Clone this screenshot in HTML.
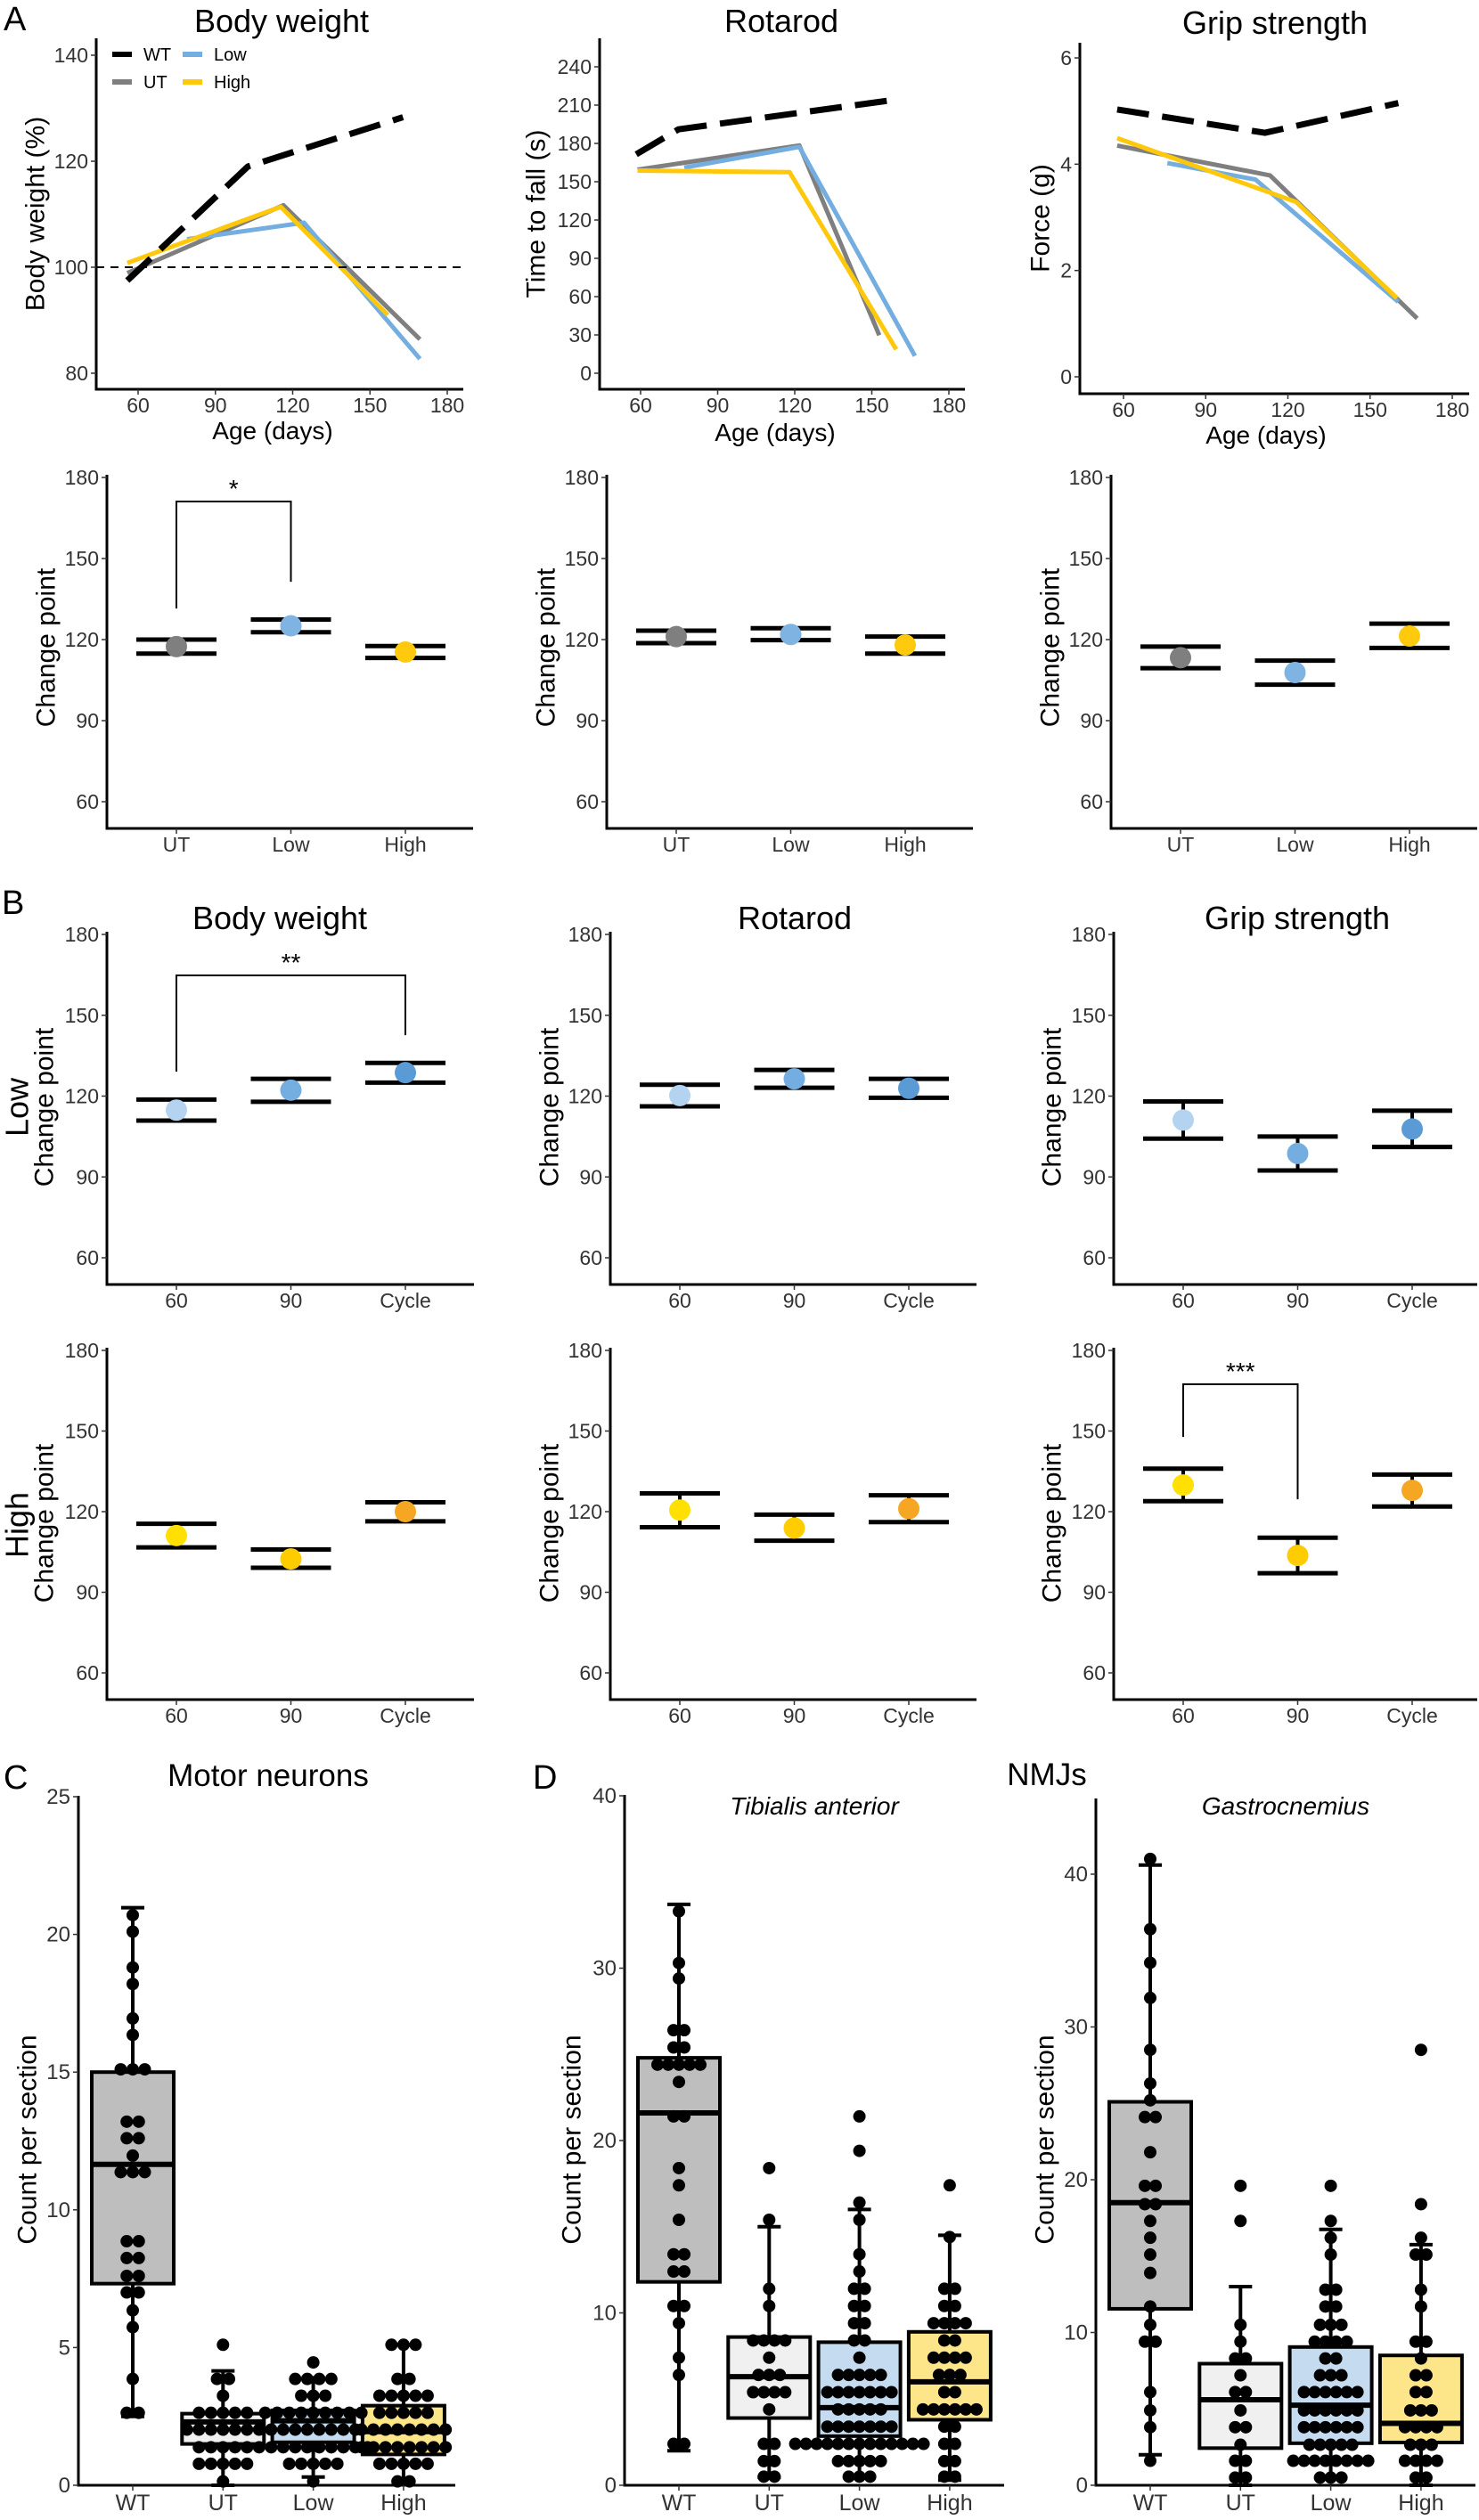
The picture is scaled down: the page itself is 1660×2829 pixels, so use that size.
<!DOCTYPE html>
<html><head><meta charset="utf-8">
<style>
body{margin:0;background:#fff}
svg{display:block;font-family:"Liberation Sans",Arial,sans-serif}
</style></head>
<body>
<svg id="fig" xmlns="http://www.w3.org/2000/svg" width="1660" height="2829" viewBox="0 0 1660 2829"></svg>
<script>
// ---------- DATA ----------
const ageTicks=[60,90,120,150,180];
const bwTicks=[80,100,120,140];
const bwWT=[[55.8,97.5],[102.6,119],[162.8,128.3]];
const bwUT=[[55.8,98.9],[116.4,111.7],[169.4,86.4]];
const bwLow=[[79,105.3],[124.4,108.4],[169.4,82.7]];
const bwHigh=[[55.8,100.8],[115.4,111.4],[156.9,91]];
const rrTicks=[0,30,60,90,120,150,180,210,240];
const rrWT=[[58.3,171.5],[74.7,191],[160,214.5]];
const rrUT=[[58.8,159.4],[121.8,178.4],[152.9,29.7]];
const rrLow=[[77,161],[121.8,177.3],[166.8,13.5]];
const rrHigh=[[58.8,158.7],[118,157.5],[159.5,18.6]];
const gsTicks=[0,2,4,6];
const gsWT=[[57.7,5.03],[111.6,4.59],[160.3,5.15]];
const gsUT=[[57.7,4.35],[113.5,3.79],[167.2,1.1]];
const gsLow=[[76,4.02],[108.2,3.71],[160.3,1.41]];
const gsHigh=[[57.7,4.49],[123,3.29],[159.8,1.48]];
const cpTicks=[60,90,120,150,180];
const groupCats=['UT','Low','High'];
const ageCats=['60','90','Cycle'];
// [lower, point, upper]
const cpBW=[[114.8,117.4,120],[122.7,125.1,127.4],[113.2,115.4,117.6]];
const cpRR=[[118.7,121.1,123.3],[119.8,121.9,124.2],[114.8,118,121.1]];
const cpGS=[[109.4,113.3,117.4],[103.3,107.8,112.2],[116.9,121.3,125.9]];
const lowBW=[[110.9,114.8,118.7],[117.9,122.2,126.4],[125,128.7,132.3]];
const lowRR=[[116.2,120.2,124.2],[123.1,126.4,129.7],[119.4,122.9,126.4]];
const lowGS=[[104.2,111.1,118],[92.4,98.7,105],[101.1,107.8,114.6]];
const highBW=[[106.7,111.1,115.5],[99.1,102.4,105.9],[116.4,120,123.5]];
const highRR=[[114.2,120.6,126.8],[109.2,113.9,118.9],[116.1,121.1,126.1]];
const highGS=[[123.9,129.9,136],[97.1,103.7,110.3],[121.9,127.9,133.8]];
// brackets: [fromIdx, toIdx, leftEnd, top, rightEnd]
const sigA=[0,1,131.5,171.1,141.4];
const sigBLow=[0,2,129.1,164.8,142.6];
const sigBHigh=[0,1,147.8,167.4,124.6];

const boxCats=['WT','UT','Low','High'];
const mnTicks=[0,5,10,15,20,25];
const nmjTicks=[0,10,20,30,40];
// [min,q1,median,q3,max]
const mnStats=[[2.5,7.32,11.65,15.0,20.97],[0,1.5,2.3,2.6,4.15],[0.3,1.56,2.34,2.72,3.9],[0.1,1.12,1.95,2.89,5.1]];
const taStats=[[2.0,11.8,21.6,24.8,33.7],[0.47,3.9,6.3,8.6,15.0],[0.47,2.85,4.5,8.3,16.0],[0.3,3.8,6.0,8.9,14.5]];
const gaStats=[[2.0,11.55,18.5,25.1,40.6],[0,2.43,5.6,7.96,13.0],[0.5,2.75,5.24,9.05,16.75],[0,2.8,4.05,8.5,15.75]];
// dot rows: [value, count]
const mnWTdots=[[20.7,1],[20.1,1],[18.8,1],[18.2,1],[16.95,1],[16.35,1],[15.1,3],[13.2,2],[12.6,2],[11.97,1],[11.37,3],[8.86,2],[8.25,2],[7.6,2],[7.0,2],[6.35,1],[5.74,1],[3.86,1],[2.63,2]];
const mnUTdots=[[5.1,1],[3.86,2],[3.25,1],[2.63,5],[2.02,7],[1.38,5],[0.78,5],[0.14,1]];
const mnLowdots=[[4.46,1],[3.86,4],[3.25,3],[2.63,9],[2.02,8],[1.38,10],[0.78,5],[0.14,1]];
const mnHighdots=[[5.1,3],[3.86,2],[3.25,5],[2.63,5],[2.02,8],[1.38,8],[0.78,5],[0.14,2]];
const taWTdots=[[33.3,1],[30.3,1],[29.4,1],[26.4,2],[25.4,2],[24.4,5],[23.4,1],[21.4,2],[18.4,1],[17.4,1],[15.4,1],[13.4,2],[12.4,2],[10.4,2],[9.4,1],[7.4,1],[6.4,1],[2.4,2]];
const taUTdots=[[18.4,1],[15.4,1],[11.4,1],[10.4,1],[8.4,4],[7.4,1],[6.4,3],[5.4,4],[4.4,1],[2.4,2],[1.4,2],[0.5,2]];
const taLowdots=[[21.4,1],[19.4,1],[16.4,1],[15.4,1],[13.4,1],[12.4,1],[11.4,2],[10.4,2],[9.4,2],[8.4,2],[7.4,1],[6.4,5],[5.4,7],[4.4,5],[3.4,7],[2.4,13],[1.4,5],[0.5,3]];
const taHighdots=[[17.4,1],[14.4,1],[11.4,2],[10.4,2],[9.4,4],[8.4,2],[7.4,4],[6.4,3],[5.4,2],[4.4,6],[3.4,2],[2.4,2],[1.4,2],[0.5,2]];
const gaWTdots=[[41,1],[36.4,1],[34.2,1],[31.9,1],[28.5,1],[26.3,1],[25.2,1],[24.1,2],[21.8,1],[19.6,2],[18.4,2],[17.3,1],[16.2,1],[15.1,1],[13.9,1],[11.7,1],[10.5,1],[9.4,2],[6.1,1],[4.9,1],[3.8,1],[1.6,1]];
const gaUTdots=[[19.6,1],[17.3,1],[10.5,1],[9.4,1],[8.3,2],[7.2,1],[6.1,2],[4.9,1],[3.8,2],[2.65,1],[1.6,2],[0.5,2]];
const gaLowdots=[[19.6,1],[17.3,1],[16.2,1],[15.1,1],[12.8,2],[11.7,2],[10.5,3],[9.4,4],[8.3,2],[7.2,3],[6.1,6],[4.9,6],[3.8,6],[2.65,5],[1.6,8],[0.5,3]];
const gaHighdots=[[28.5,1],[18.4,1],[16.2,1],[15.1,2],[12.8,1],[11.7,1],[9.4,2],[8.3,1],[7.2,2],[6.1,2],[4.9,3],[3.8,4],[2.65,3],[1.6,4],[0.5,2]];

// ---------- HELPERS ----------
const NS='http://www.w3.org/2000/svg';
const svg=document.getElementById('fig');
function mk(tag,parent,name,attrs){
  const e=document.createElementNS(NS,tag);
  
  
  for(const k in attrs) e.setAttribute(k,attrs[k]);
  parent.appendChild(e);
  return e;
}
function lin(v0,p0,v1,p1){return v=>p0+(v-v0)*(p1-p0)/(v1-v0);}
function txt(parent,name,x,y,s,size,extra){
  const a=Object.assign({x:x,y:y,'font-size':size,'text-anchor':'middle',fill:'#000'},extra||{});
  const t=mk('text',parent,name,a);
  t.textContent=s;
  return t;
}
function vtxt(parent,name,x,y,s,size){
  return txt(parent,name,x,y,s,size,{transform:`rotate(-90 ${x} ${y})`,'dominant-baseline':'central'});
}
function axes(g,P,yTicks){
  mk('line',g,'y-axis-line',{x1:P.ax,y1:P.top,x2:P.ax,y2:P.ay+1.5,stroke:'#000','stroke-width':3});
  mk('line',g,'x-axis-line',{x1:P.ax-1.5,y1:P.ay,x2:P.right,y2:P.ay,stroke:'#000','stroke-width':3});
  yTicks.forEach(v=>{
    const py=P.ys(v);
    mk('line',g,'y-tick',{x1:P.ax-6,y1:py,x2:P.ax,y2:py,stroke:'#333','stroke-width':1.5});
    txt(g,'y-tick-label',P.ax-9,py+8,String(v),P.fs||23,{'text-anchor':'end',fill:'#333'});
  });
}
function xNumTicks(g,P,ticks){
  ticks.forEach(v=>{
    const px=P.xs(v);
    mk('line',g,'x-tick',{x1:px,y1:P.ay,x2:px,y2:P.ay+6,stroke:'#333','stroke-width':1.5});
    txt(g,'x-tick-label',px,P.ay+26,String(v),23,{fill:'#333'});
  });
}
function xCatTicks(g,P,cats,catX,fs,dy){
  cats.forEach((c,i)=>{
    const px=catX(i);
    mk('line',g,'x-tick',{x1:px,y1:P.ay,x2:px,y2:P.ay+6,stroke:'#333','stroke-width':1.5});
    txt(g,'x-tick-label',px,P.ay+(dy||26),c,fs||23,{fill:'#333'});
  });
}
const COL={WT:'#000',UT:'#7f7f7f',Low:'#74aee0',High:'#ffc80a'};
function series(g,P,name,pts,color,dashed){
  const d=pts.map(p=>P.xs(p[0]).toFixed(1)+','+P.ys(p[1]).toFixed(1)).join(' ');
  const a={points:d,fill:'none',stroke:color,'stroke-width':dashed?7:5,'stroke-linejoin':'round'};
  if(dashed)a['stroke-dasharray']='36,15';
  mk('polyline',g,name,a);
}
function linePanel(name,P,ticksY,set){
  const g=mk('g',svg,name,{});
  axes(g,P,ticksY);
  xNumTicks(g,P,ageTicks);
  series(g,P,'series-ut',set[1],COL.UT,false);
  series(g,P,'series-low',set[2],COL.Low,false);
  series(g,P,'series-high',set[3],COL.High,false);
  series(g,P,'series-wt',set[0],COL.WT,true);
  return g;
}
function cpPanel(name,P,cats,data,colors,sig,stars){
  const g=mk('g',svg,name,{});
  axes(g,P,cpTicks);
  const catX=i=>P.ax+78+i*128.5;
  xCatTicks(g,P,cats,catX);
  data.forEach((d,i)=>{
    const cx=catX(i);
    mk('line',g,'error-bar-stem',{x1:cx,y1:P.ys(d[0]),x2:cx,y2:P.ys(d[2]),stroke:'#000','stroke-width':4});
    mk('line',g,'error-bar-lower',{x1:cx-45,y1:P.ys(d[0]),x2:cx+45,y2:P.ys(d[0]),stroke:'#000','stroke-width':5});
    mk('line',g,'error-bar-upper',{x1:cx-45,y1:P.ys(d[2]),x2:cx+45,y2:P.ys(d[2]),stroke:'#000','stroke-width':5});
    mk('circle',g,'point-'+cats[i].toLowerCase(),{cx:cx,cy:P.ys(d[1]),r:12,fill:colors[i]});
  });
  if(sig){
    const x1=catX(sig[0]),x2=catX(sig[1]),yt=P.ys(sig[3]);
    mk('polyline',g,'significance-bracket',{points:`${x1},${P.ys(sig[2])} ${x1},${yt} ${x2},${yt} ${x2},${P.ys(sig[4])}`,fill:'none',stroke:'#000','stroke-width':2});
    txt(g,'significance-stars',(x1+x2)/2,yt-5,stars,28);
  }
  return g;
}
function boxPanel(name,P,stats,dotSets,fills){
  const g=mk('g',svg,name,{});
  axes(g,P,P.ticks);
  const catX=i=>P.ax+61+i*101.3;
  xCatTicks(g,P,boxCats,catX,25,28);
  stats.forEach((s,i)=>{
    const cx=catX(i),hw=46;
    mk('line',g,'whisker-upper',{x1:cx,y1:P.ys(s[3]),x2:cx,y2:P.ys(s[4]),stroke:'#000','stroke-width':4});
    mk('line',g,'whisker-lower',{x1:cx,y1:P.ys(s[1]),x2:cx,y2:P.ys(s[0]),stroke:'#000','stroke-width':4});
    mk('line',g,'whisker-cap-upper',{x1:cx-13,y1:P.ys(s[4]),x2:cx+13,y2:P.ys(s[4]),stroke:'#000','stroke-width':4});
    mk('line',g,'whisker-cap-lower',{x1:cx-13,y1:P.ys(s[0]),x2:cx+13,y2:P.ys(s[0]),stroke:'#000','stroke-width':4});
    mk('rect',g,'box-'+boxCats[i].toLowerCase(),{x:cx-hw,y:P.ys(s[3]),width:hw*2,height:P.ys(s[1])-P.ys(s[3]),fill:fills[i],stroke:'#000','stroke-width':4});
    mk('line',g,'median-line',{x1:cx-hw,y1:P.ys(s[2]),x2:cx+hw,y2:P.ys(s[2]),stroke:'#000','stroke-width':6});
  });
  dotSets.forEach((rows,i)=>{
    const cx=catX(i);
    rows.forEach(r=>{
      for(let k=0;k<r[1];k++){
        const dx=(k-(r[1]-1)/2)*P.sp;
        mk('circle',g,'data-dot',{cx:cx+dx,cy:P.ys(r[0]),r:7,fill:'#000'});
      }
    });
  });
  return g;
}

// ---------- PANEL A ----------
txt(svg,'panel-label-a',4,34,'A',38,{'text-anchor':'start'});
txt(svg,'title-body-weight',316,36,'Body weight',36);
txt(svg,'title-rotarod',877,36,'Rotarod',36);
txt(svg,'title-grip-strength',1431,38,'Grip strength',36);

const pBW={ax:108,ay:437,top:43,right:520,xs:lin(60,155,180,502),ys:lin(100,300,140,62)};
const gBW=linePanel('body-weight-line-chart',pBW,bwTicks,[bwWT,bwUT,bwLow,bwHigh]);
mk('line',gBW,'reference-line-100',{x1:pBW.ax,y1:pBW.ys(100),x2:pBW.right,y2:pBW.ys(100),stroke:'#000','stroke-width':2,'stroke-dasharray':'9,7'});
vtxt(gBW,'y-axis-title',40,240,'Body weight (%)',30);
txt(gBW,'x-axis-title',306,493,'Age (days)',28);
// legend
const lg=mk('g',gBW,'legend',{});
[['WT',126,61,COL.WT],['Low',205,61,COL.Low],['UT',126,92,COL.UT],['High',205,92,COL.High]].forEach(L=>{
  mk('line',lg,'legend-swatch',{x1:L[1],y1:L[2],x2:L[1]+22,y2:L[2],stroke:L[3],'stroke-width':6});
  txt(lg,'legend-entry',L[1]+35,L[2]+7,L[0],20,{'text-anchor':'start'});
});

const pRR={ax:673,ay:437,top:43,right:1083,xs:lin(60,719,180,1065),ys:lin(0,419,240,75)};
const gRR=linePanel('rotarod-line-chart',pRR,rrTicks,[rrWT,rrUT,rrLow,rrHigh]);
vtxt(gRR,'y-axis-title',602,240,'Time to fall (s)',30);
txt(gRR,'x-axis-title',870,495,'Age (days)',28);

const pGS={ax:1212,ay:442,top:48,right:1649,xs:lin(60,1261,180,1630),ys:lin(0,423,6,65)};
const gGS=linePanel('grip-strength-line-chart',pGS,gsTicks,[gsWT,gsUT,gsLow,gsHigh]);
vtxt(gGS,'y-axis-title',1168,245,'Force (g)',30);
txt(gGS,'x-axis-title',1421,498,'Age (days)',28);

const grpColors=[COL.UT,'#7fb3e2','#ffc90e'];
const ysA2=lin(60,900,180,536);
const gA1=cpPanel('bw-change-point',{ax:120,ay:930,top:533,right:531,ys:ysA2},groupCats,cpBW,grpColors,sigA,'*');
vtxt(gA1,'y-axis-title',52,727,'Change point',30);
const gA2=cpPanel('rotarod-change-point',{ax:681,ay:930,top:533,right:1092,ys:ysA2},groupCats,cpRR,grpColors,null);
vtxt(gA2,'y-axis-title',613,727,'Change point',30);
const gA3=cpPanel('grip-change-point',{ax:1247,ay:930,top:533,right:1658,ys:ysA2},groupCats,cpGS,grpColors,null);
vtxt(gA3,'y-axis-title',1179,727,'Change point',30);

// ---------- PANEL B ----------
txt(svg,'panel-label-b',2,1026,'B',38,{'text-anchor':'start'});
txt(svg,'title-b-body-weight',314,1043,'Body weight',36);
txt(svg,'title-b-rotarod',892,1043,'Rotarod',36);
txt(svg,'title-b-grip-strength',1456,1043,'Grip strength',36);
const lowColors=['#b3d3f1','#74aee0','#5b9bd5'];
const highColors=['#ffe000','#ffcc00','#f5a623'];
const ysB1=lin(60,1412,180,1049);
const ysB2=lin(60,1878,180,1516);
vtxt(svg,'row-label-low',19,1243,'Low',36);
vtxt(svg,'row-label-high',19,1712,'High',36);
const b1=cpPanel('low-bw-change-point',{ax:120,ay:1442,top:1046,right:532,ys:ysB1},ageCats,lowBW,lowColors,sigBLow,'**');
vtxt(b1,'y-axis-title',50,1243,'Change point',30);
const b2=cpPanel('low-rotarod-change-point',{ax:685,ay:1442,top:1046,right:1096,ys:ysB1},ageCats,lowRR,lowColors,null);
vtxt(b2,'y-axis-title',617,1243,'Change point',30);
const b3=cpPanel('low-grip-change-point',{ax:1250,ay:1442,top:1046,right:1658,ys:ysB1},ageCats,lowGS,lowColors,null);
vtxt(b3,'y-axis-title',1181,1243,'Change point',30);
const b4=cpPanel('high-bw-change-point',{ax:120,ay:1908,top:1513,right:532,ys:ysB2},ageCats,highBW,highColors,null);
vtxt(b4,'y-axis-title',50,1710,'Change point',30);
const b5=cpPanel('high-rotarod-change-point',{ax:685,ay:1908,top:1513,right:1096,ys:ysB2},ageCats,highRR,highColors,null);
vtxt(b5,'y-axis-title',617,1710,'Change point',30);
const b6=cpPanel('high-grip-change-point',{ax:1250,ay:1908,top:1513,right:1658,ys:ysB2},ageCats,highGS,highColors,sigBHigh,'***');
vtxt(b6,'y-axis-title',1181,1710,'Change point',30);

// ---------- PANEL C / D ----------
const boxFills=['#bebebe','#f0f0f0','#c5dcf0','#fde68a'];
txt(svg,'panel-label-c',4,2008,'C',38,{'text-anchor':'start'});
txt(svg,'title-motor-neurons',301,2005,'Motor neurons',35);
const gC=boxPanel('motor-neuron-boxplot',{ax:88,ay:2790,top:2016,right:511,ys:lin(0,2790,25,2017),ticks:mnTicks,sp:13.5,fs:24},mnStats,[mnWTdots,mnUTdots,mnLowdots,mnHighdots],boxFills);
vtxt(gC,'y-axis-title',31,2402,'Count per section',30);

txt(svg,'panel-label-d',598,2008,'D',38,{'text-anchor':'start'});
txt(svg,'title-nmjs',1175,2004,'NMJs',35);
txt(svg,'title-tibialis-anterior',914,2037,'Tibialis anterior',28,{'font-style':'italic'});
txt(svg,'title-gastrocnemius',1443,2037,'Gastrocnemius',28,{'font-style':'italic'});
const gD1=boxPanel('tibialis-boxplot',{ax:701,ay:2790,top:2015,right:1127,ys:lin(0,2790,40,2016),ticks:nmjTicks,sp:12,fs:24},taStats,[taWTdots,taUTdots,taLowdots,taHighdots],boxFills);
vtxt(gD1,'y-axis-title',642,2402,'Count per section',30);
const gD2=boxPanel('gastrocnemius-boxplot',{ax:1230,ay:2790,top:2019,right:1656,ys:lin(0,2790,40,2104),ticks:nmjTicks,sp:12,fs:24},gaStats,[gaWTdots,gaUTdots,gaLowdots,gaHighdots],boxFills);
vtxt(gD2,'y-axis-title',1173,2402,'Count per section',30);
</script>
</body></html>
